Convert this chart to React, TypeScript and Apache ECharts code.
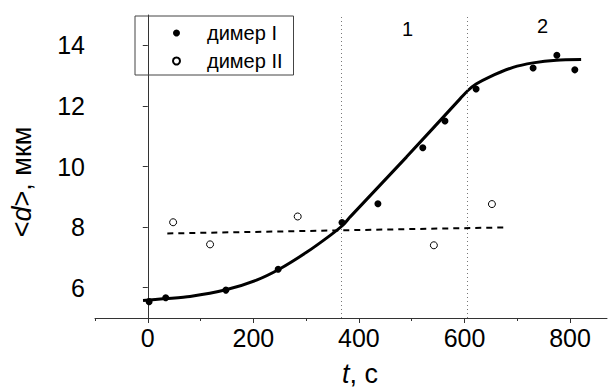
import React, { useEffect, useRef } from "react";
import * as echarts from "echarts";

const dimer1: [number, number][] = [
  [2.5, 5.54], [34, 5.67], [148, 5.92], [247, 6.61], [368, 8.15], [436, 8.77],
  [521, 10.62], [563, 11.5], [622, 12.56], [730, 13.25], [775, 13.67], [809, 13.19],
];
const dimer2: [number, number][] = [
  [48, 8.16], [118, 7.43], [284, 8.35], [542, 7.4], [652, 8.76],
];
const fitCurve: [number, number][] = [
  [-9, 5.58], [34, 5.64], [80, 5.71], [148, 5.93], [206, 6.25], [248, 6.6],
  [300, 7.16], [345, 7.72], [370, 8.07], [383, 8.33], [490, 10.31], [592, 12.24], [606, 12.5],
  [622, 12.72], [648, 12.96], [692, 13.27], [730, 13.42], [774, 13.51], [821, 13.53],
];
const dashedFit: [number, number][] = [[37, 7.79], [677, 7.99]];
const boundaries = [367, 606];
const regionLabels: { x: number; y: number; text: string }[] = [
  { x: 492, y: 14.54, text: "1" },
  { x: 748, y: 14.64, text: "2" },
];
const xMajor = [0, 200, 400, 600, 800];
const xMinor = [-100, 100, 300, 500, 700];
const yMajor = [6, 8, 10, 12, 14];

const FONT = "'Liberation Sans', Arial, sans-serif";

export default function App() {
  const ref = useRef<HTMLDivElement>(null);
  useEffect(() => {
    document.body.style.margin = "0";
    const chart = echarts.init(ref.current!, null, { renderer: "svg" });
    chart.setOption({
      animation: false,
      grid: { left: 95, top: 15, right: 1, bottom: 70 },
      legend: {
        data: [
          { name: "димер I", icon: "circle" },
          { name: "димер II", icon: "circle" },
        ],
        orient: "vertical",
        left: 135,
        top: 16,
        padding: [6, 11, 3, 37],
        itemGap: 6,
        itemWidth: 7,
        itemHeight: 7,
        borderColor: "#444",
        borderWidth: 1,
        textStyle: {
          fontSize: 20,
          lineHeight: 22,
          color: "#000",
          fontFamily: FONT,
          padding: [0, 0, 0, 22],
        },
      },
      xAxis: [
        {
          type: "value",
          min: -100,
          max: 870,
          position: "bottom",
          splitLine: { show: false },
          axisLine: { show: true, lineStyle: { color: "#333", width: 1 } },
          axisTick: { show: true, customValues: xMajor, length: 5, lineStyle: { color: "#333" } },
          axisLabel: { customValues: xMajor, fontSize: 25, color: "#000", fontFamily: FONT, margin: 7 },
        },
        {
          type: "value",
          min: -100,
          max: 870,
          position: "bottom",
          splitLine: { show: false },
          axisLine: { show: false },
          axisTick: { show: true, customValues: xMinor, length: 3, lineStyle: { color: "#333" } },
          axisLabel: { show: false },
        },
      ],
      yAxis: {
        type: "value",
        min: 5,
        max: 15,
        interval: 1,
        splitLine: { show: false },
        axisLine: { show: true, lineStyle: { color: "#333", width: 1 } },
        axisTick: { show: true, customValues: yMajor, length: 5, lineStyle: { color: "#333" } },
        axisLabel: { customValues: yMajor, fontSize: 25, color: "#000", fontFamily: FONT, margin: 10 },
      },
      graphic: [
        {
          type: "text",
          x: 360,
          y: 374,
          style: {
            text: "{i|t}{n|, с}",
            align: "center",
            verticalAlign: "middle",
            rich: {
              i: { fontStyle: "italic", fontSize: 27, fontFamily: FONT, fill: "#000" },
              n: { fontSize: 27, fontFamily: FONT, fill: "#000" },
            },
          },
        },
        {
          type: "text",
          x: 22,
          y: 182,
          rotation: Math.PI / 2,
          style: {
            text: "{n|<}{i|d}{n|>, мкм}",
            align: "center",
            verticalAlign: "middle",
            rich: {
              i: { fontStyle: "italic", fontSize: 27, fontFamily: FONT, fill: "#000" },
              n: { fontSize: 27, fontFamily: FONT, fill: "#000" },
            },
          },
        },
      ],
      series: [
        {
          name: "fit",
          type: "line",
          data: fitCurve,
          showSymbol: false,
          smooth: 0.25,
          lineStyle: { color: "#000", width: 3 },
          silent: true,
          z: 3,
        },
        {
          name: "fit2",
          type: "line",
          data: dashedFit,
          showSymbol: false,
          lineStyle: { color: "#000", width: 2, type: [6, 5] },
          silent: true,
          z: 2,
          markLine: {
            silent: true,
            symbol: ["none", "none"],
            label: { show: false },
            lineStyle: { color: "#777", width: 1, type: [1, 3] },
            data: boundaries.map((b) => ({ xAxis: b })),
          },
          markPoint: {
            symbol: "rect",
            symbolSize: 1,
            itemStyle: { color: "rgba(0,0,0,0)" },
            label: {
              show: true,
              position: "inside",
              fontSize: 20,
              color: "#000",
              fontFamily: FONT,
              formatter: (p: any) => p.name,
            },
            data: regionLabels.map((r) => ({ name: r.text, coord: [r.x, r.y] })),
          },
        },
        {
          name: "димер I",
          type: "scatter",
          data: dimer1,
          symbol: "circle",
          symbolSize: 7,
          itemStyle: { color: "#000", opacity: 1 },
          z: 5,
        },
        {
          name: "димер II",
          type: "scatter",
          data: dimer2,
          symbol: "circle",
          symbolSize: 7,
          itemStyle: { color: "#fff", borderColor: "#000", borderWidth: 1, opacity: 1 },
          z: 5,
        },
      ],
    });
    return () => chart.dispose();
  }, []);
  return <div ref={ref} style={{ width: 608, height: 388 }} />;
}
